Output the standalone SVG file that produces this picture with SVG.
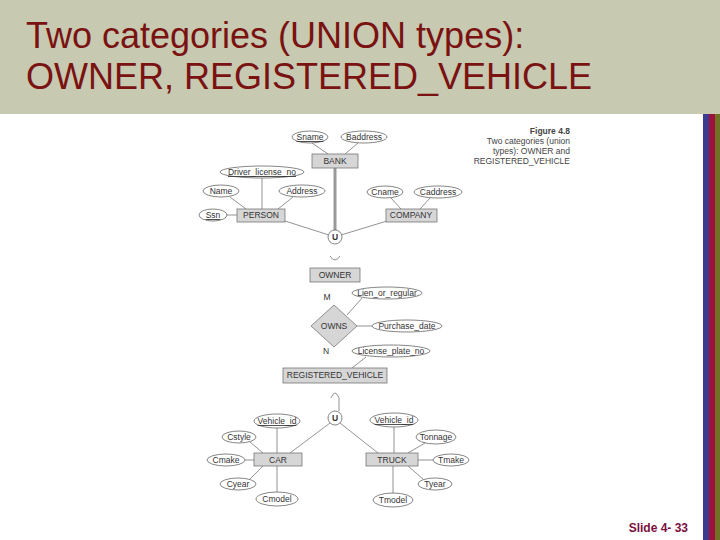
<svg xmlns="http://www.w3.org/2000/svg" width="720" height="540" viewBox="0 0 720 540">
<style>
.title{font-family:"Liberation Sans",Arial,sans-serif;font-size:36px;fill:#7a1212}
.t{font-family:"Liberation Sans",Arial,sans-serif;font-size:8.5px;fill:#333;text-anchor:middle}
.cap{font-family:"Liberation Sans",Arial,sans-serif;font-size:8.5px;fill:#444;text-anchor:end}
.e{fill:#fff;stroke:#666;stroke-width:0.8}
.r{fill:#d6d6d6;stroke:#777;stroke-width:0.8}
.d{fill:#d6d6d6;stroke:#777;stroke-width:0.8}
.c{stroke:#777;stroke-width:0.8;fill:none}
.u{text-decoration:underline}
</style>
<rect x="0" y="0" width="720" height="540" fill="#fff"/>
<rect x="0" y="0" width="720" height="114" fill="#c7c9b0"/>
<text class="title" x="26" y="48">Two categories (UNION types):</text>
<text class="title" x="26" y="89">OWNER, REGISTERED_VEHICLE</text>
<rect x="703" y="114" width="6" height="426" fill="#3b3b92"/>
<rect x="709" y="114" width="6" height="426" fill="#a0103f"/>
<rect x="715" y="114" width="5" height="426" fill="#6f7124"/>
<text x="688" y="532" font-family="'Liberation Sans',Arial,sans-serif" font-size="12" font-weight="bold" fill="#7a1040" text-anchor="end">Slide 4- 33</text>

<g id="caption">
<text class="cap" x="570" y="134" font-weight="bold" fill="#222">Figure 4.8</text>
<text class="cap" x="570" y="144">Two categories (union</text>
<text class="cap" x="570" y="154">types): OWNER and</text>
<text class="cap" x="570" y="164">REGISTERED_VEHICLE</text>
</g>

<g id="connectors">
<line class="c" x1="312" y1="143" x2="328" y2="154"/>
<line class="c" x1="358" y1="143" x2="345" y2="154"/>
<line x1="335" y1="168" x2="335" y2="230" stroke="#999" stroke-width="3"/>
<line class="c" x1="262" y1="178" x2="262" y2="209"/>
<line class="c" x1="230" y1="197" x2="246" y2="209"/>
<line class="c" x1="293" y1="197" x2="278" y2="209"/>
<line class="c" x1="227" y1="215" x2="237" y2="215"/>
<line class="c" x1="285" y1="221" x2="329" y2="235"/>
<line class="c" x1="391" y1="198" x2="401" y2="209"/>
<line class="c" x1="430" y1="198" x2="420" y2="209"/>
<line class="c" x1="387" y1="221" x2="341" y2="235"/>
<path class="c" d="M330,256 Q335,264 340,256"/>
<line class="c" x1="362" y1="298" x2="347" y2="315"/>
<line class="c" x1="357" y1="326" x2="372" y2="326"/>
<line class="c" x1="366" y1="357" x2="352" y2="368"/>
<path class="c" d="M331,398 Q335,388 339,398 L339,411"/>
<line class="c" x1="330" y1="423" x2="290" y2="453"/>
<line class="c" x1="340" y1="423" x2="378" y2="453"/>
<line class="c" x1="277" y1="428" x2="277" y2="453"/>
<line class="c" x1="250" y1="442" x2="263" y2="453"/>
<line class="c" x1="245" y1="460" x2="254" y2="460"/>
<line class="c" x1="250" y1="479" x2="263" y2="466"/>
<line class="c" x1="277" y1="492" x2="277" y2="466"/>
<line class="c" x1="394" y1="427" x2="394" y2="453"/>
<line class="c" x1="425" y1="443" x2="408" y2="453"/>
<line class="c" x1="433" y1="460" x2="418" y2="460"/>
<line class="c" x1="423" y1="479" x2="408" y2="466"/>
<line class="c" x1="393" y1="493" x2="393" y2="466"/>
</g>

<g id="Sname"><ellipse class="e" cx="310" cy="137" rx="18" ry="6"/><text class="t u" x="310" y="140">Sname</text></g>
<g id="Baddress"><ellipse class="e" cx="364" cy="137" rx="23" ry="6"/><text class="t" x="364" y="140">Baddress</text></g>
<g id="BANK"><rect class="r" x="312" y="154" width="46" height="14"/><text class="t" x="335" y="164">BANK</text></g>
<g id="Driver_license_no"><ellipse class="e" cx="262" cy="172" rx="42" ry="6"/><text class="t u" x="262" y="175">Driver_license_no</text></g>
<g id="Name"><ellipse class="e" cx="221" cy="191" rx="18" ry="6"/><text class="t" x="221" y="194">Name</text></g>
<g id="Address"><ellipse class="e" cx="302" cy="191" rx="23" ry="6"/><text class="t" x="302" y="194">Address</text></g>
<g id="Ssn"><ellipse class="e" cx="213" cy="215" rx="14" ry="6"/><text class="t u" x="213" y="218">Ssn</text></g>
<g id="PERSON"><rect class="r" x="237" y="209" width="48" height="13"/><text class="t" x="261" y="218">PERSON</text></g>
<g id="Cname"><ellipse class="e" cx="385" cy="192" rx="18" ry="6"/><text class="t" x="385" y="195">Cname</text></g>
<g id="Caddress"><ellipse class="e" cx="438" cy="192" rx="24" ry="6"/><text class="t" x="438" y="195">Caddress</text></g>
<g id="COMPANY"><rect class="r" x="386" y="209" width="51" height="13"/><text class="t" x="411" y="218">COMPANY</text></g>
<g id="U1"><circle class="e" cx="335" cy="237" r="7"/><text class="t" x="335" y="240" font-weight="bold">U</text></g>
<g id="OWNER"><rect class="r" x="310" y="268" width="50" height="14"/><text class="t" x="335" y="278">OWNER</text></g>
<g id="M"><text class="t" x="327" y="300">M</text></g>
<g id="Lien_or_regular"><ellipse class="e" cx="387" cy="293" rx="35" ry="6"/><text class="t" x="387" y="296">Lien_or_regular</text></g>
<g id="OWNS"><polygon class="d" points="334,305 357,326 334,347 311,326"/><text class="t" x="334" y="329">OWNS</text></g>
<g id="Purchase_date"><ellipse class="e" cx="407" cy="326" rx="35" ry="6"/><text class="t" x="407" y="329">Purchase_date</text></g>
<g id="N"><text class="t" x="326" y="354">N</text></g>
<g id="License_plate_no"><ellipse class="e" cx="391" cy="351" rx="39" ry="6"/><text class="t" x="391" y="354">License_plate_no</text></g>
<g id="REGISTERED_VEHICLE"><rect class="r" x="283" y="368" width="104" height="15"/><text class="t" x="335" y="378">REGISTERED_VEHICLE</text></g>
<g id="U2"><circle class="e" cx="335" cy="418" r="7"/><text class="t" x="335" y="421" font-weight="bold">U</text></g>
<g id="CAR"><rect class="r" x="254" y="453" width="48" height="13"/><text class="t" x="278" y="463">CAR</text></g>
<g id="Vehicle_id_car"><ellipse class="e" cx="277" cy="421" rx="23" ry="7"/><text class="t u" x="277" y="424">Vehicle_id</text></g>
<g id="Cstyle"><ellipse class="e" cx="239" cy="437" rx="17" ry="6"/><text class="t" x="239" y="440">Cstyle</text></g>
<g id="Cmake"><ellipse class="e" cx="226" cy="460" rx="19" ry="6"/><text class="t" x="226" y="463">Cmake</text></g>
<g id="Cyear"><ellipse class="e" cx="238" cy="484" rx="18" ry="6"/><text class="t" x="238" y="487">Cyear</text></g>
<g id="Cmodel"><ellipse class="e" cx="277" cy="499" rx="21" ry="7"/><text class="t" x="277" y="502">Cmodel</text></g>
<g id="TRUCK"><rect class="r" x="366" y="453" width="52" height="13"/><text class="t" x="392" y="463">TRUCK</text></g>
<g id="Vehicle_id_truck"><ellipse class="e" cx="394" cy="420" rx="24" ry="7"/><text class="t u" x="394" y="423">Vehicle_id</text></g>
<g id="Tonnage"><ellipse class="e" cx="436" cy="437" rx="20" ry="7"/><text class="t" x="436" y="440">Tonnage</text></g>
<g id="Tmake"><ellipse class="e" cx="451" cy="460" rx="18" ry="6"/><text class="t" x="451" y="463">Tmake</text></g>
<g id="Tyear"><ellipse class="e" cx="435" cy="484" rx="17" ry="6"/><text class="t" x="435" y="487">Tyear</text></g>
<g id="Tmodel"><ellipse class="e" cx="393" cy="500" rx="20" ry="7"/><text class="t" x="393" y="503">Tmodel</text></g>
</svg>
